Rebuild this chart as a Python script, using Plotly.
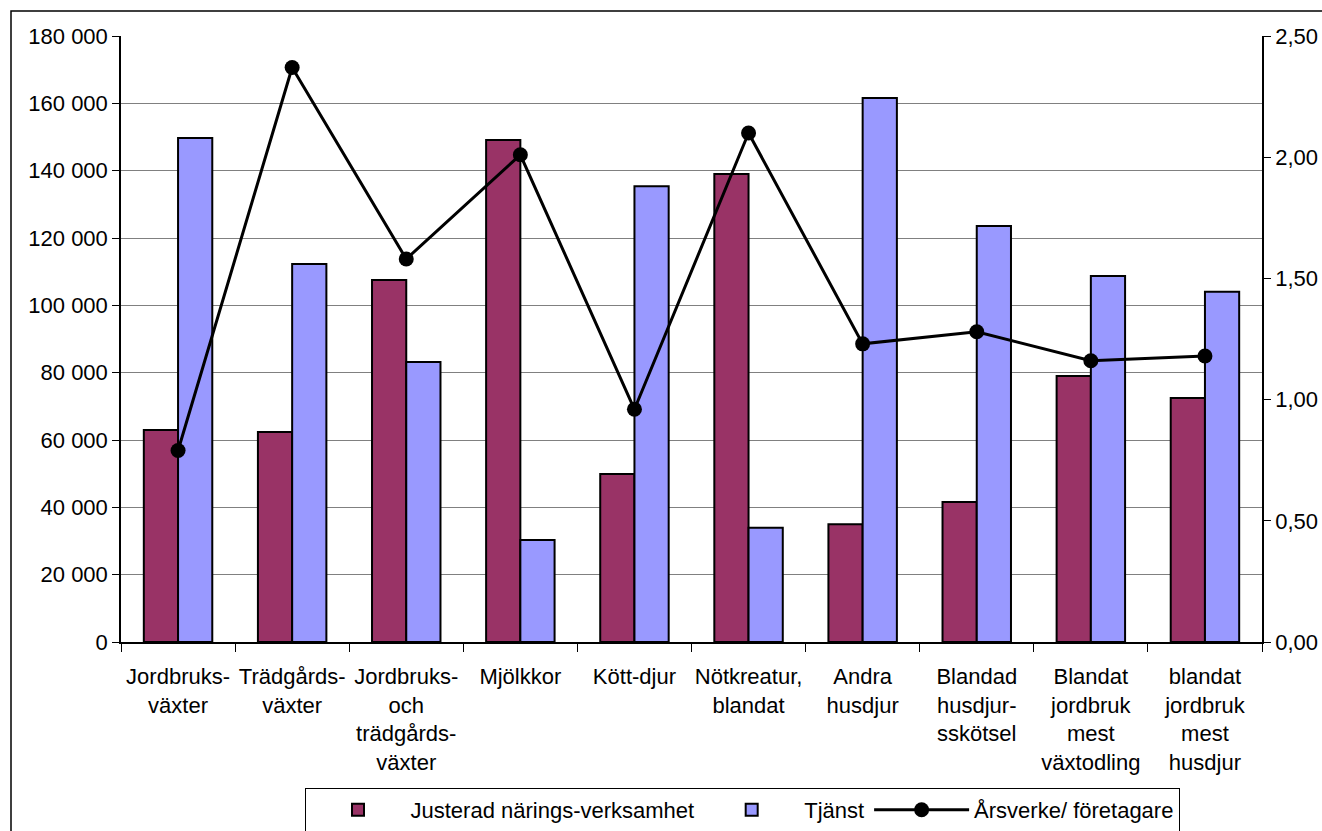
import plotly.graph_objects as go

categories = ["Jordbruks-<br>växter", "Trädgårds-<br>växter", "Jordbruks-<br>och<br>trädgårds-<br>växter",
              "Mjölkkor", "Kött-djur", "Nötkreatur,<br>blandat", "Andra<br>husdjur",
              "Blandad<br>husdjur-<br>sskötsel", "Blandat<br>jordbruk<br>mest<br>växtodling",
              "blandat<br>jordbruk<br>mest<br>husdjur"]
justerad = [63000, 62400, 107500, 149100, 49900, 139000, 35000, 41600, 79000, 72500]
tjanst = [149700, 112300, 83200, 30300, 135400, 33900, 161600, 123600, 108700, 104000]
arsverke = [0.79, 2.37, 1.58, 2.01, 0.96, 2.10, 1.23, 1.28, 1.16, 1.18]

font = "Liberation Sans, Arial, sans-serif"

# plot area at page x 121-1262, y 36-642 (body margin removed via post_script)
W, H = 1322, 831
L, T = 121, 36
paper_w = W - L
paper_h = H - T
plot_w = 1141
plot_h = 606

def px_x(page_x):
    return (page_x - L) / paper_w

def px_y(page_y):
    return (H - page_y) / paper_h

fig = go.Figure()
fig.add_trace(go.Bar(x=categories, y=justerad, name="Justerad närings-verksamhet",
                     marker=dict(color="#993366", line=dict(color="black", width=2))))
fig.add_trace(go.Bar(x=categories, y=tjanst, name="Tjänst",
                     marker=dict(color="#9999FF", line=dict(color="black", width=2))))
fig.add_trace(go.Scatter(x=categories, y=arsverke, name="Årsverke/ företagare", yaxis="y2",
                         mode="lines+markers", line=dict(color="black", width=3),
                         marker=dict(color="black", size=15)))

fig.update_layout(
    width=W, height=H,
    margin=dict(l=L, r=0, t=T, b=0, autoexpand=False),
    paper_bgcolor="white", plot_bgcolor="white",
    separators=", ",
    font=dict(family=font, size=22, color="black"),
    barmode="group", bargap=0.4, bargroupgap=0,
    showlegend=True,
    legend=dict(orientation="h", x=px_x(742), xanchor="center", y=px_y(788), yanchor="top",
                bordercolor="black", borderwidth=1, font=dict(size=22),
                itemwidth=95),
    xaxis=dict(domain=[0, plot_w / paper_w], range=[-0.5, len(categories) - 0.5],
               showline=True, linecolor="black", linewidth=1.5,
               ticks="outside", ticklen=8, tickcolor="black", tickson="boundaries",
               showgrid=False, tickangle=0, automargin=False, ticklabelstandoff=14),
    yaxis=dict(domain=[1 - plot_h / paper_h, 1], range=[0, 180000], dtick=20000, tickformat=",d",
               showline=True, linecolor="black", linewidth=1.5, ticks="outside", ticklen=7,
               tickcolor="black", showgrid=True, gridcolor="#808080", gridwidth=1,
               zeroline=False, automargin=False),
    yaxis2=dict(range=[0, 2.5], dtick=0.5, tickformat=".2f", overlaying="y", side="right",
                showline=True, linecolor="black", linewidth=1.5, ticks="outside", ticklen=7,
                tickcolor="black", showgrid=False, zeroline=False, automargin=False),
)

fig.add_shape(type="rect", xref="paper", yref="paper", x0=px_x(11), x1=1.2, y0=-0.2, y1=px_y(11),
              line=dict(color="black", width=1.5), fillcolor="rgba(0,0,0,0)", layer="below")

fig.write_html("out.html", config={"displayModeBar": False},
               post_script="document.body.style.margin='0';document.body.style.overflow='hidden';")
